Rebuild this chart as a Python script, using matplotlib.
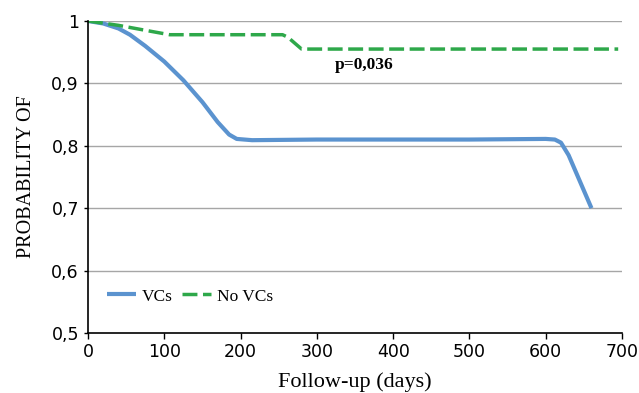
import matplotlib
matplotlib.use("Agg")
import matplotlib.pyplot as plt

# VCs curve (days, probability)
vcs_days = [0, 20, 40, 55, 75, 100, 125, 150, 170, 185, 195, 215, 300, 500, 600, 612, 620, 630, 660]
vcs_prob = [1.0, 0.996, 0.988, 0.978, 0.96, 0.935, 0.905, 0.87, 0.838, 0.818, 0.811, 0.809, 0.81, 0.81, 0.811, 0.81, 0.805, 0.785, 0.70]

# No VCs curve
novcs_days = [0, 40, 80, 107, 255, 262, 280, 695]
novcs_prob = [1.0, 0.993, 0.984, 0.978, 0.978, 0.974, 0.955, 0.955]

p_text = "p=0,036"
x_ticks = [0, 100, 200, 300, 400, 500, 600, 700]
y_ticks = [0.5, 0.6, 0.7, 0.8, 0.9, 1.0]
y_labels = ["0,5", "0,6", "0,7", "0,8", "0,9", "1"]

serif = "Liberation Serif"

fig = plt.figure(figsize=(6.39, 3.93), dpi=100)
ax = fig.add_axes([0.1377, 0.1527, 0.8357, 0.7939])

for y in y_ticks[1:]:
    ax.axhline(y, color="#a6a6a6", lw=1, zorder=0)

ax.plot(vcs_days, vcs_prob, color="#5b93cf", lw=3, label="VCs", solid_capstyle="butt")
ax.plot(novcs_days, novcs_prob, color="#2ea84a", lw=2.5, dashes=(4.3, 1.6), label="No VCs")

ax.text(324, 0.9295, p_text, fontfamily=serif, fontweight="bold", fontsize=12.5, va="center", ha="left")

ax.set_xlim(0, 700)
ax.set_ylim(0.5, 1.0)
ax.set_xticks(x_ticks)
ax.set_yticks(y_ticks)
ax.set_yticklabels(y_labels)
ax.tick_params(axis="both", labelsize=12.5, length=4, direction="out", width=1)
ax.tick_params(axis="y", length=3)

for s in ["top", "right"]:
    ax.spines[s].set_visible(False)
for s in ["left", "bottom"]:
    ax.spines[s].set_linewidth(1.2)

ax.set_xlabel("Follow-up (days)", fontfamily=serif, fontsize=16, labelpad=8)
ax.set_ylabel("PROBABILITY OF", fontfamily=serif, fontsize=14.5, labelpad=11)

ax.legend(loc="center left", bbox_to_anchor=(0.022, 0.117), ncol=2, frameon=False,
          prop={"family": serif, "size": 12.5}, handlelength=1.7, columnspacing=0.5,
          handletextpad=0.35, borderaxespad=0)

fig.savefig("out.png", dpi=100)
